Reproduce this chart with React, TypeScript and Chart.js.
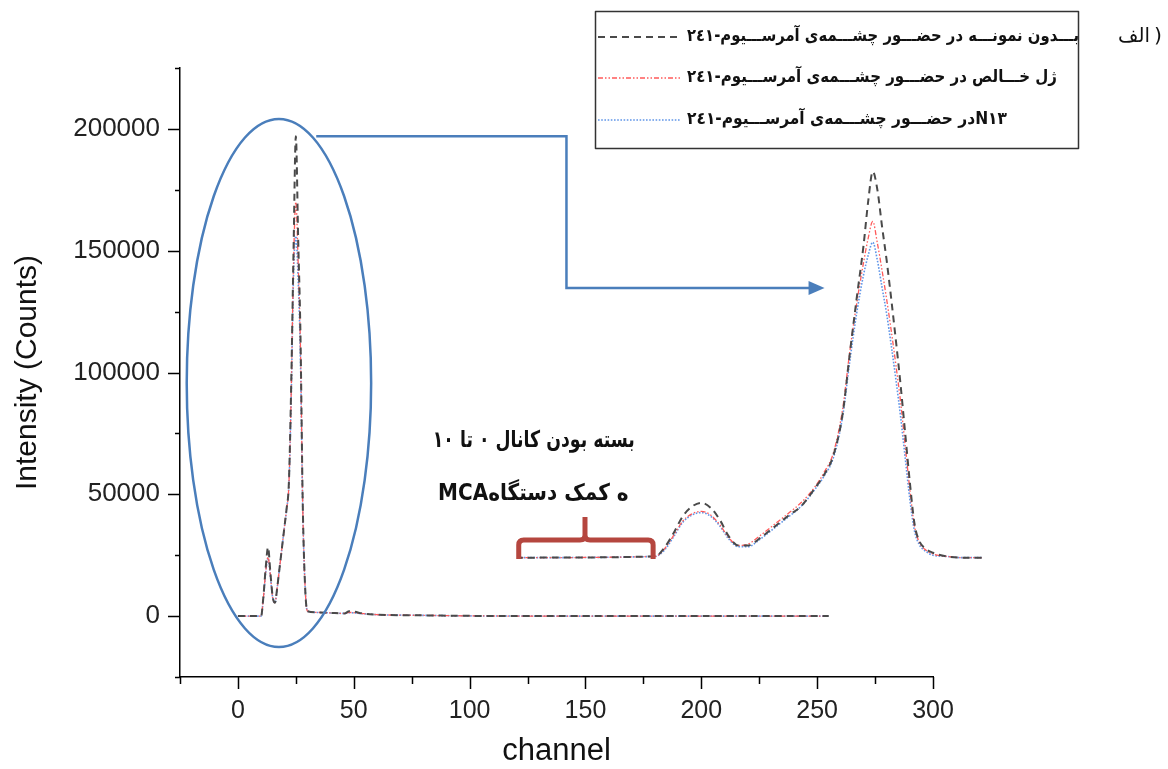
import React, { useEffect, useRef } from "react";
import { Chart, registerables } from "chart.js";

Chart.register(...registerables);

// ---------- data ----------
const mainChannels = [0, 10, 11, 12, 13, 14, 15, 16, 17, 18, 19, 20, 21, 22, 23, 24, 25, 26, 27, 28, 29, 30, 35, 40, 46, 48, 55, 60, 80, 100, 150, 200, 255];
const mainNoSample = [0, 0, 8000, 20000, 28300, 18000, 8000, 5500, 12000, 20000, 28000, 36000, 44000, 55000, 95000, 150000, 197000, 155000, 115000, 45000, 12000, 2000, 1500, 1300, 1100, 2000, 900, 600, 300, 100, 0, 0, 0];
const mainPureGel = [0, 0, 7500, 18500, 24200, 17000, 7500, 5500, 12000, 20000, 28000, 36000, 44000, 54000, 92000, 145000, 170000, 145000, 110000, 44000, 12000, 2000, 1500, 1300, 1100, 1500, 900, 600, 300, 100, 0, 0, 0];
const mainN13 = [0, 0, 7500, 18000, 23800, 16500, 7500, 5500, 12000, 20000, 28000, 36000, 44000, 54000, 90000, 140000, 156000, 138000, 105000, 43000, 12000, 2000, 1500, 1300, 1100, 1400, 900, 600, 300, 100, 0, 0, 0];

const zoomChannels = [121, 180, 184, 188, 192, 196, 200, 204, 208, 212, 216, 220, 226, 232, 238, 243, 249, 253, 257, 261, 264, 267, 270, 272, 274, 276, 278, 280, 282, 284, 286, 288, 290, 292, 294, 297, 300, 306, 312, 321];
const zoomNoSample = [24000, 24500, 28000, 34000, 41000, 45000, 46500, 44500, 39500, 32500, 29000, 29000, 32500, 37000, 41500, 45000, 52500, 58000, 66000, 83000, 107000, 130000, 152000, 170000, 182500, 175000, 160000, 146000, 130000, 113000, 95000, 75000, 55000, 38000, 31000, 27500, 26000, 24500, 24000, 24000];
const zoomPureGel = [24000, 24500, 27500, 33000, 39000, 42000, 43000, 41500, 37500, 32000, 29000, 29500, 33500, 38000, 42500, 46500, 53000, 59000, 67000, 85000, 108000, 128000, 145000, 155000, 162000, 153000, 142000, 130000, 117000, 103000, 88000, 70000, 52000, 37000, 30500, 27000, 25500, 24500, 24000, 24000];
const zoomN13 = [24000, 24500, 27000, 32500, 38500, 41500, 42500, 41000, 37000, 31500, 28500, 28500, 32000, 36500, 41000, 45000, 52000, 57500, 65000, 82000, 104000, 124000, 140000, 148000, 153500, 146000, 135000, 124000, 111000, 97000, 82000, 65000, 48000, 35000, 29500, 26500, 25000, 24500, 24000, 24000];

const xTickValues = [0, 50, 100, 150, 200, 250, 300];
const yTickValues = [0, 50000, 100000, 150000, 200000];

const seriesLabels = [
  "بـــدون نمونـــه در حضـــور چشـــمه‌ی آمرســـیوم-٢٤١",
  "ژل خـــالص در حضـــور چشـــمه‌ی آمرســـیوم-٢٤١",
  "N١٣در حضـــور چشـــمه‌ی آمرســـیوم-٢٤١",
];
const xTitle = "channel";
const yTitle = "Intensity (Counts)";
const noteLine1 = "بسته بودن کانال ٠ تا ١٠";
const noteLine2 = "ه کمک دستگاهMCA";
const panelTagWord = "الف";
// drawn right-to-left, so the mirrored glyph shows as a closing parenthesis
const panelTagParen = "(";

// ---------- styles ----------
const X_MIN = -25, X_MAX = 300, X_MINOR = 25;
const Y_MIN = -25000, Y_MAX = 225000, Y_MINOR = 25000;
const seriesStyles = [
  { color: "#4a4a4a", width: 2, dash: [7, 5] },
  { color: "#ff5a5a", width: 1.3, dash: [5, 2, 1.5, 2, 1.5, 2] },
  { color: "#5f95e8", width: 1.6, dash: [1.6, 1.6] },
];
const ANNOT_BLUE = "#4a7ebb";
const BRACE_RED = "#b5463f";
const PERSIAN_FONT = '"DejaVu Sans"';

function toPoints(xs: number[], ys: number[]) {
  return xs.map((x, i) => ({ x, y: ys[i] }));
}

function fitText(ctx: CanvasRenderingContext2D, text: string, left: number, right: number, y: number, font: string, color: string) {
  ctx.save();
  ctx.direction = "rtl";
  ctx.font = font;
  ctx.textAlign = "left";
  ctx.textBaseline = "middle";
  ctx.fillStyle = color;
  const w = ctx.measureText(text).width;
  const sx = (right - left) / w;
  ctx.translate(left, y);
  ctx.scale(sx, 1);
  ctx.fillText(text, 0, 0);
  ctx.restore();
}

const decorPlugin = {
  id: "decor",
  afterDraw(chart: any) {
    const ctx: CanvasRenderingContext2D = chart.ctx;
    const xs = chart.scales.x;
    const ys = chart.scales.y;
    const px = (v: number) => xs.getPixelForValue(v);
    const py = (v: number) => ys.getPixelForValue(v);
    const area = chart.chartArea;
    ctx.save();

    // axis ticks (major / minor)
    ctx.strokeStyle = "#000";
    ctx.lineWidth = 1.5;
    ctx.beginPath();
    for (let v = Y_MIN; v <= Y_MAX; v += Y_MINOR) {
      const major = yTickValues.includes(v);
      const y = Math.round(py(v)) + 0.5;
      ctx.moveTo(area.left, y);
      ctx.lineTo(area.left - (major ? 12 : 5), y);
    }
    for (let v = X_MIN; v <= X_MAX; v += X_MINOR) {
      const major = xTickValues.includes(v);
      const x = Math.round(px(v)) + 0.5;
      ctx.moveTo(x, area.bottom);
      ctx.lineTo(x, area.bottom + (major ? 12 : 7));
    }
    ctx.moveTo(area.left - 5, area.bottom + 0.5);
    ctx.lineTo(area.left, area.bottom + 0.5);
    ctx.stroke();

    // ellipse around the low-channel region
    ctx.strokeStyle = ANNOT_BLUE;
    ctx.lineWidth = 2.5;
    ctx.beginPath();
    const ecx = px(17.7), ecy = py(95700);
    ctx.ellipse(ecx, ecy, Math.abs(px(57.5) - ecx), Math.abs(py(204100) - ecy), 0, 0, Math.PI * 2);
    ctx.stroke();

    // connector arrow
    const ax0 = px(33.8), ay0 = py(197000), ax1 = px(141.8), ay1 = py(134700), ax2 = px(253.2);
    ctx.beginPath();
    ctx.moveTo(ax0, ay0);
    ctx.lineTo(ax1, ay0);
    ctx.lineTo(ax1, ay1);
    ctx.lineTo(ax2 - 12, ay1);
    ctx.stroke();
    ctx.fillStyle = ANNOT_BLUE;
    ctx.beginPath();
    ctx.moveTo(ax2, ay1);
    ctx.lineTo(ax2 - 16, ay1 - 7);
    ctx.lineTo(ax2 - 16, ay1 + 7);
    ctx.closePath();
    ctx.fill();

    // brace
    const bl = px(121.2), br = px(179.2), bm = px(149.8);
    const bb = py(23400), bt = py(31200), bs = py(40700);
    const r = 5;
    ctx.strokeStyle = BRACE_RED;
    ctx.lineWidth = 5;
    ctx.lineJoin = "round";
    ctx.lineCap = "butt";
    ctx.beginPath();
    ctx.moveTo(bl, bb);
    ctx.lineTo(bl, bt + r);
    ctx.quadraticCurveTo(bl, bt, bl + r, bt);
    ctx.lineTo(bm - r, bt);
    ctx.quadraticCurveTo(bm, bt, bm, bt - r);
    ctx.lineTo(bm, bs);
    ctx.moveTo(bm, bt - r);
    ctx.quadraticCurveTo(bm, bt, bm + r, bt);
    ctx.lineTo(br - r, bt);
    ctx.quadraticCurveTo(br, bt, br, bt + r);
    ctx.lineTo(br, bb);
    ctx.stroke();

    // note text
    fitText(ctx, noteLine1, px(84.1), px(171.3), py(71900), `bold 23px ${PERSIAN_FONT}`, "#111");
    fitText(ctx, noteLine2, px(86.4), px(168.6), py(50100), `bold 23px ${PERSIAN_FONT}`, "#111");

    // legend box
    ctx.strokeStyle = "#333";
    ctx.lineWidth = 1.5;
    ctx.strokeRect(595.5, 11.5, 483, 137);
    const rowsY = [37, 78, 120];
    const textRight = [1079, 1057, 1007];
    seriesLabels.forEach((label, i) => {
      const s = seriesStyles[i];
      ctx.save();
      ctx.strokeStyle = s.color;
      ctx.lineWidth = s.width;
      ctx.setLineDash(s.dash);
      ctx.beginPath();
      ctx.moveTo(598, rowsY[i]);
      ctx.lineTo(680, rowsY[i]);
      ctx.stroke();
      ctx.restore();
      fitText(ctx, label, 687, textRight[i], rowsY[i], `bold 17px ${PERSIAN_FONT}`, "#111");
    });

    // panel tag
    fitText(ctx, panelTagWord, 1118, 1150, 37, `20px ${PERSIAN_FONT}`, "#111");
    fitText(ctx, panelTagParen, 1154, 1162, 37, `20px ${PERSIAN_FONT}`, "#111");

    ctx.restore();
  },
};

export default function App() {
  const canvasRef = useRef<HTMLCanvasElement | null>(null);

  useEffect(() => {
    const canvas = canvasRef.current;
    if (!canvas) return;
    const mains = [mainNoSample, mainPureGel, mainN13];
    const zooms = [zoomNoSample, zoomPureGel, zoomN13];
    const datasets: any[] = [];
    seriesStyles.forEach((s, i) => {
      const common = {
        showLine: true,
        borderColor: s.color,
        borderWidth: s.width,
        borderDash: s.dash,
        pointRadius: 0,
        fill: false,
        cubicInterpolationMode: "monotone",
        clip: false,
        label: seriesLabels[i],
      };
      datasets.push({ ...common, data: toPoints(mainChannels, mains[i]) });
      // listed from high to low channel so every point (also beyond the axis end) is drawn
      datasets.push({ ...common, data: toPoints(zoomChannels, zooms[i]).reverse() });
    });

    const chart = new Chart(canvas, {
      type: "scatter",
      data: { datasets },
      options: {
        animation: false,
        responsive: false,
        maintainAspectRatio: false,
        layout: { padding: { top: 68, right: 235, left: 0, bottom: 0 } },
        plugins: { legend: { display: false }, tooltip: { enabled: false } },
        scales: {
          x: {
            type: "linear",
            min: X_MIN,
            max: X_MAX,
            grid: { display: false },
            border: { display: true, color: "#000", width: 1.5 },
            afterBuildTicks: (scale: any) => {
              scale.ticks = xTickValues.map((v) => ({ value: v }));
            },
            afterFit: (scale: any) => {
              scale.height = 92;
            },
            ticks: {
              padding: 11,
              color: "#222",
              font: { family: "Liberation Sans", size: 25 },
              maxRotation: 0,
              autoSkip: false,
            },
            title: {
              display: true,
              text: xTitle,
              color: "#111",
              font: { family: "Liberation Sans", size: 31, lineHeight: 1 },
              padding: { top: 0, bottom: 2 },
            },
          },
          y: {
            type: "linear",
            min: Y_MIN,
            max: Y_MAX,
            grid: { display: false },
            border: { display: true, color: "#000", width: 1.5 },
            afterBuildTicks: (scale: any) => {
              scale.ticks = yTickValues.map((v) => ({ value: v }));
            },
            afterFit: (scale: any) => {
              scale.width = 180;
            },
            ticks: {
              padding: 12,
              color: "#222",
              font: { family: "Liberation Sans", size: 26 },
              autoSkip: false,
              callback: (v: any) => String(v),
            },
            title: {
              display: true,
              text: yTitle,
              color: "#111",
              font: { family: "Liberation Sans", size: 30, lineHeight: 1 },
              padding: { top: 13, bottom: 0 },
            },
          },
        },
      },
      plugins: [decorPlugin],
    } as any);

    return () => chart.destroy();
  }, []);

  return (
    <div style={{ position: "fixed", left: 0, top: 0, width: 1168, height: 769, background: "#fff" }}>
      <canvas ref={canvasRef} width={1168} height={769} style={{ display: "block" }} />
    </div>
  );
}
